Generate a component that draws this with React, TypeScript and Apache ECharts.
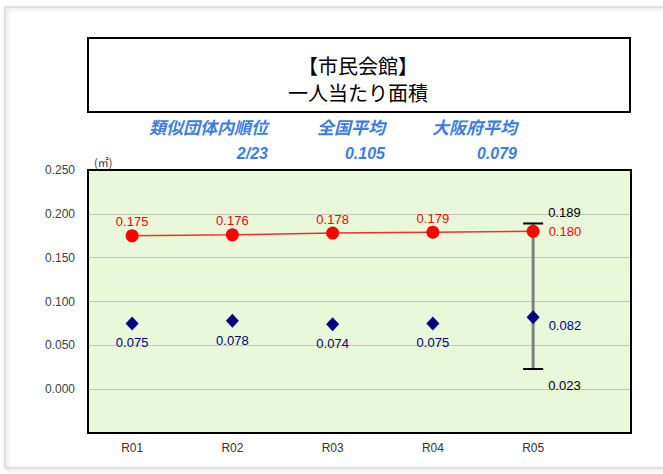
import React, { useEffect, useRef } from "react";
import * as echarts from "echarts";

const categories = ["R01", "R02", "R03", "R04", "R05"];
const cityValues = [0.175, 0.176, 0.178, 0.179, 0.18];
const avgValues = [0.075, 0.078, 0.074, 0.075, 0.082];
const rangeIndex = 4;
const rangeMin = 0.023;
const rangeMax = 0.189;
const yTicks = { min: -0.05, max: 0.25, interval: 0.05 };
const titleLines = ["【市民会館】", "一人当たり面積"];
const infoHeads = ["類似団体内順位", "全国平均", "大阪府平均"];
const infoValues = ["2/23", "0.105", "0.079"];
const unitLabel = "(㎡)";

const BLUE = "#3c7ce4";
const SANS = "'Liberation Sans', Arial, 'Noto Sans CJK JP', sans-serif";
const JP = "'Noto Sans CJK JP', sans-serif";

export default function App() {
  const ref = useRef<HTMLDivElement>(null);
  useEffect(() => {
    document.body.style.margin = "0";
    const chart = echarts.init(ref.current!, null, { renderer: "svg" });
    const last = categories.length - 1;
    const infoRight = [268, 385, 517];

    const option: any = {
      animation: false,
      backgroundColor: "#ffffff",
      grid: [
        { left: 88, top: 170, width: 543, height: 263, show: true, backgroundColor: "#e8f8d8", borderWidth: 0 },
        { left: 82, top: 170, width: 501.25, height: 263, show: false },
      ],
      xAxis: [
        { type: "value", gridIndex: 0, show: false, min: 0, max: 1 },
        {
          type: "category",
          gridIndex: 1,
          data: categories,
          boundaryGap: true,
          axisLine: { show: false },
          axisTick: { show: false },
          axisLabel: { color: "#333", fontSize: 12, fontFamily: SANS, margin: 9 },
        },
      ],
      yAxis: [
        {
          type: "value",
          gridIndex: 0,
          min: yTicks.min,
          max: yTicks.max,
          interval: yTicks.interval,
          axisLine: { show: false },
          axisTick: { show: false },
          axisLabel: {
            color: "#404040",
            fontSize: 12,
            fontFamily: SANS,
            margin: 13,
            formatter: (v: number) => (v < -1e-9 ? "" : v.toFixed(3)),
          },
          splitLine: { show: true, lineStyle: { color: "#c4c4c4", width: 1 } },
        },
        { type: "value", gridIndex: 1, min: yTicks.min, max: yTicks.max, show: false, splitLine: { show: false } },
      ],
      series: [
        {
          type: "custom",
          xAxisIndex: 1,
          yAxisIndex: 1,
          z: 1,
          data: [[rangeIndex, rangeMin, rangeMax]],
          renderItem: (params: any, api: any) => {
            const top = api.coord([api.value(0), api.value(2)]);
            const bot = api.coord([api.value(0), api.value(1)]);
            const hw = 10;
            return {
              type: "group",
              children: [
                { type: "line", shape: { x1: top[0], y1: top[1], x2: bot[0], y2: bot[1] }, style: { stroke: "#808080", lineWidth: 3 } },
                { type: "line", shape: { x1: top[0] - hw, y1: top[1], x2: top[0] + hw, y2: top[1] }, style: { stroke: "#000", lineWidth: 2 } },
                { type: "line", shape: { x1: bot[0] - hw, y1: bot[1], x2: bot[0] + hw, y2: bot[1] }, style: { stroke: "#000", lineWidth: 2 } },
                {
                  type: "text",
                  x: top[0] + 15,
                  y: top[1] - 11,
                  style: { text: api.value(2).toFixed(3), fill: "#000", fontSize: 13, fontFamily: SANS, align: "left", verticalAlign: "middle" },
                },
                {
                  type: "text",
                  x: bot[0] + 15,
                  y: bot[1] + 16,
                  style: { text: api.value(1).toFixed(3), fill: "#000", fontSize: 13, fontFamily: SANS, align: "left", verticalAlign: "middle" },
                },
              ],
            };
          },
        },
        {
          type: "line",
          xAxisIndex: 1,
          yAxisIndex: 1,
          z: 3,
          symbol: "circle",
          symbolSize: 13,
          itemStyle: { color: "#ff0000", opacity: 1 },
          lineStyle: { color: "#ff2a2a", width: 1.5 },
          label: { show: true, position: "top", distance: 1, color: "#ff0000", fontSize: 13, fontFamily: SANS, formatter: (p: any) => p.value.toFixed(3) },
          data: cityValues.map((v, i) =>
            i === last ? { value: v, label: { position: "right", distance: 9 } } : v
          ),
        },
        {
          type: "scatter",
          xAxisIndex: 1,
          yAxisIndex: 1,
          z: 3,
          symbol: "diamond",
          symbolSize: [13, 14],
          itemStyle: { color: "#000080", opacity: 1 },
          label: { show: true, position: "bottom", distance: 6, color: "#000080", fontSize: 13, fontFamily: SANS, formatter: (p: any) => p.value.toFixed(3) },
          data: avgValues.map((v, i) =>
            i === last ? { value: v, label: { position: "right", distance: 9, offset: [0, 8] } } : v
          ),
        },
      ],
      graphic: [
        {
          type: "rect",
          z: -1,
          shape: { x: 5, y: 7, width: 700, height: 461 },
          style: { fill: "none", stroke: "#c8c8c8", lineWidth: 1, shadowBlur: 5, shadowColor: "rgba(0,0,0,0.35)", shadowOffsetX: 1, shadowOffsetY: 1 },
        },
        {
          type: "rect",
          z: 100,
          shape: { x: 88, y: 170, width: 543, height: 263 },
          style: { fill: "none", stroke: "#000", lineWidth: 2 },
        },
        {
          type: "rect",
          z: 10,
          shape: { x: 88, y: 38, width: 542, height: 74 },
          style: { fill: "#fff", stroke: "#000", lineWidth: 2 },
        },
        ...titleLines.map((t, i) => ({
          type: "text",
          z: 11,
          x: 358,
          y: 65 + i * 27,
          style: { text: t, fill: "#000", fontSize: 20, fontFamily: JP, align: "center", verticalAlign: "middle" },
        })),
        ...infoHeads.map((t, i) => ({
          type: "text",
          z: 11,
          x: infoRight[i],
          y: 126,
          style: { text: t, fill: BLUE, fontSize: 17, fontWeight: "bold", fontStyle: "italic", fontFamily: JP, align: "right", verticalAlign: "middle" },
        })),
        ...infoValues.map((t, i) => ({
          type: "text",
          z: 11,
          x: infoRight[i],
          y: 153,
          style: { text: t, fill: BLUE, fontSize: 16, fontWeight: "bold", fontStyle: "italic", fontFamily: SANS, align: "right", verticalAlign: "middle" },
        })),
        {
          type: "text",
          z: 11,
          x: 94,
          y: 162,
          style: { text: unitLabel, fill: "#333", fontSize: 11, fontFamily: JP, align: "left", verticalAlign: "middle" },
        },
      ],
    };
    chart.setOption(option);
    return () => chart.dispose();
  }, []);
  return <div ref={ref} style={{ width: 663, height: 474 }} />;
}
